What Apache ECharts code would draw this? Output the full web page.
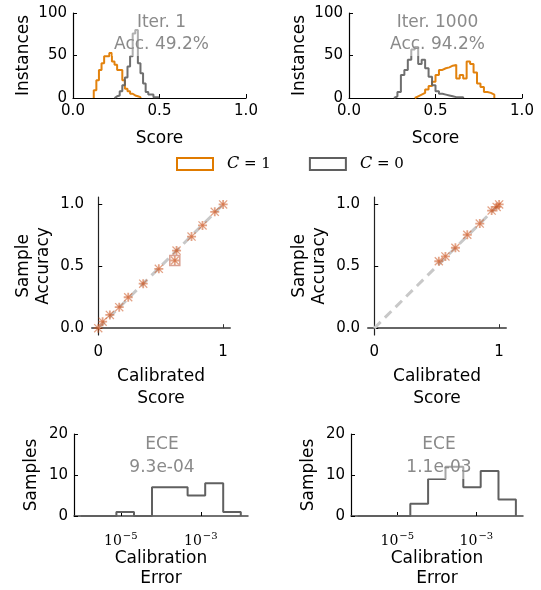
<!DOCTYPE html>
<html><head><meta charset="utf-8">
<script src="https://cdn.jsdelivr.net/npm/echarts@6/dist/echarts.min.js"></script>
<style>html,body{margin:0;padding:0;background:#fff}#c{width:541px;height:590px}</style>
</head><body><div id="c"></div>
<script>
// ---- Top row: score histograms ----
const scoreTicks = [0, 0.5, 1];
const countTicks = [0, 50, 100];
const it1PosEdges = [0.12,0.135,0.15,0.165,0.18,0.195,0.21,0.225,0.24,0.255,0.27,0.285,0.30,0.315,0.33,0.345,0.36,0.375,0.39];
const it1PosCounts = [9,21,33,41,49,49,53,43,39,33,33,21,11,8,5,3,2,1];
const it1NegEdges = [0.24,0.255,0.27,0.285,0.30,0.315,0.33,0.345,0.36,0.375,0.39,0.405,0.42,0.435,0.45,0.465,0.48,0.495];
const it1NegCounts = [2,3,8,15,24,37,49,76,80,41,29,17,7,4,4,1,1];
const it1000NegEdges = [0.26,0.28,0.30,0.32,0.34,0.36,0.38,0.40,0.42,0.44,0.46,0.48,0.50,0.52,0.54,0.56,0.58,0.60,0.62,0.64,0.66];
const it1000NegCounts = [2,7,27,33,45,57,60,40,45,35,25,15,8,5,4,3,2,1,1,1];
const it1000PosEdges = [0.38,0.40,0.42,0.44,0.46,0.48,0.50,0.52,0.54,0.56,0.58,0.60,0.62,0.64,0.66,0.68,0.70,0.72,0.74,0.76,0.78,0.80,0.82,0.84];
const it1000PosCounts = [2,4,6,10,14,19,27,33,35,36,38,39,23,27,23,43,40,30,17,13,7,6,4];
const panelTitles = ['Iter. 1\nAcc. 49.2%', 'Iter. 1000\nAcc. 94.2%'];
const legendNames = ['C = 1', 'C = 0'];

// ---- Middle row: calibration ----
const calTicksX = [0, 1];
const calTicksY = [0, 0.5, 1];
const calLeftX = [0, 0.035, 0.093, 0.168, 0.24, 0.36, 0.485, 0.613, 0.627, 0.747, 0.835, 0.933, 1.0];
const calLeftY = [0, 0.053, 0.107, 0.17, 0.25, 0.36, 0.48, 0.547, 0.627, 0.74, 0.83, 0.94, 1.0];
const calLeftBoxX = [0.613];
const calLeftBoxY = [0.547];
const calRightX = [0.517, 0.57, 0.65, 0.745, 0.845, 0.94, 0.98, 1.0];
const calRightY = [0.541, 0.58, 0.65, 0.755, 0.845, 0.95, 0.98, 1.0];
const diagX = [0, 1];
const diagY = [0, 1];

// ---- Bottom row: calibration error histograms (log10 bin edges) ----
const eceEdges = [-6.0,-5.56,-5.11,-4.67,-4.22,-3.78,-3.33,-2.89,-2.44,-2.0];
const eceLeftCounts = [0,0,1,0,7,7,5,8,1];
const eceRightCounts = [0,0,0,3,9,12,7,11,4];
const eceTickExps = [-5, -3];
const sampleTicks = [0, 10, 20];
const eceTitles = ['ECE\n9.3e-04', 'ECE\n1.1e-03'];

const ORANGE = '#e07b00', GRAY = '#5f5f5f', MARK = '#cc5520';
const FONT = 'DejaVu Sans';

function steps(edges, counts) {
  const pts = [[edges[0], 0]];
  for (let i = 0; i < counts.length; i++) pts.push([edges[i], counts[i]]);
  pts.push([edges[edges.length - 1], 0]);
  return pts;
}
function zip(a, b) { return a.map((v, i) => [v, b[i]]); }

const grids = [
  {left: 73, top: 13, width: 173, height: 85},
  {left: 349, top: 13, width: 173, height: 85},
  {left: 92, top: 197, width: 138, height: 138},
  {left: 368, top: 197, width: 138, height: 138},
  {left: 74, top: 434, width: 174, height: 85},
  {left: 351, top: 434, width: 172, height: 85}
];

const lblStyle = {color: '#000', fontFamily: FONT, fontSize: 15};
const nameStyle = {color: '#000', fontFamily: FONT, fontSize: 17, lineHeight: 21};

function xAxisTop(gi) {
  return {type: 'value', gridIndex: gi, min: 0, max: 1,
    name: 'Score', nameLocation: 'middle', nameGap: 30, nameTextStyle: nameStyle,
    axisLine: {lineStyle: {color: '#000', width: 1.2}},
    axisTick: {inside: true, length: 4, customValues: scoreTicks, lineStyle: {color: '#000'}},
    axisLabel: {customValues: scoreTicks, formatter: v => v.toFixed(1), margin: 6, ...lblStyle},
    splitLine: {show: false}};
}
function yAxisTop(gi) {
  return {type: 'value', gridIndex: gi, min: 0, max: 100,
    name: 'Instances', nameLocation: 'middle', nameGap: 34, nameTextStyle: nameStyle,
    axisLine: {show: true, lineStyle: {color: '#000', width: 1.2}},
    axisTick: {show: true, inside: true, length: 4, customValues: countTicks, lineStyle: {color: '#000'}},
    axisLabel: {customValues: countTicks, margin: 6, ...lblStyle},
    splitLine: {show: false}};
}
function xAxisMid(gi) {
  return {type: 'value', gridIndex: gi, min: -0.05, max: 1.055,
    name: 'Calibrated\nScore', nameLocation: 'middle', nameGap: 31, nameTextStyle: {...nameStyle, lineHeight: 22},
    axisLine: {lineStyle: {color: '#666', width: 2}},
    axisTick: {inside: true, length: 4, customValues: calTicksX, lineStyle: {color: '#333'}},
    axisLabel: {customValues: calTicksX, margin: 10, ...lblStyle},
    splitLine: {show: false}};
}
function yAxisMid(gi) {
  return {type: 'value', gridIndex: gi, min: -0.055, max: 1.06,
    name: 'Sample\nAccuracy', nameLocation: 'middle', nameGap: 38, nameTextStyle: {...nameStyle, lineHeight: 20},
    axisLine: {show: true, lineStyle: {color: '#222', width: 1.2}},
    axisTick: {show: true, inside: true, length: 4, customValues: calTicksY, lineStyle: {color: '#000'}},
    axisLabel: {customValues: calTicksY, formatter: v => v.toFixed(1), margin: 8, ...lblStyle},
    splitLine: {show: false}};
}
function xAxisBot(gi) {
  return {type: 'value', gridIndex: gi, min: -6.17, max: -1.82,
    name: 'Calibration\nError', nameLocation: 'middle', nameGap: 33, nameTextStyle: {...nameStyle, lineHeight: 20},
    axisLine: {lineStyle: {color: '#444', width: 1.5}},
    axisTick: {inside: true, length: 4, customValues: eceTickExps, lineStyle: {color: '#000'}},
    axisLabel: {customValues: eceTickExps, margin: 15,
      formatter: v => '{b|10}{s|\u2212' + Math.abs(v) + '}',
      rich: {b: {fontFamily: 'DejaVu Serif', fontSize: 14, color: '#000', verticalAlign: 'bottom'},
             s: {fontFamily: 'DejaVu Serif', fontSize: 10, color: '#000', verticalAlign: 'bottom', padding: [0, 0, 7, 1]}}},
    splitLine: {show: false}};
}
function yAxisBot(gi) {
  return {type: 'value', gridIndex: gi, min: 0, max: 20,
    name: 'Samples', nameLocation: 'middle', nameGap: 32, nameTextStyle: nameStyle,
    axisLine: {show: true, lineStyle: {color: '#000', width: 1.2}},
    axisTick: {show: true, inside: true, length: 4, customValues: sampleTicks, lineStyle: {color: '#000'}},
    axisLabel: {customValues: sampleTicks, margin: 6, ...lblStyle},
    splitLine: {show: false}};
}

const plusSym = 'path://M4,0h2v10h-2zM0,4h10v2h-10z';
const xSym = 'path://M1,0L5,4L9,0L10,1L6,5L10,9L9,10L5,6L1,10L0,9L4,5L0,1Z';

function histLine(name, gi, edges, counts, color, opacity) {
  return {type: 'line', name: name, xAxisIndex: gi, yAxisIndex: gi, step: 'end',
    data: steps(edges, counts), showSymbol: false, symbol: 'none',
    lineStyle: {color: color, width: 2, opacity: opacity}, itemStyle: {color: color},
    silent: true, animation: false, z: 3};
}
function diag(gi) {
  return {type: 'line', xAxisIndex: gi, yAxisIndex: gi, data: zip(diagX, diagY), symbol: 'none',
    lineStyle: {color: '#c8c8c8', width: 3, type: [9, 6]}, silent: true, animation: false, z: 2};
}
function marks(gi, xs, ys, sym) {
  return {type: 'scatter', xAxisIndex: gi, yAxisIndex: gi, data: zip(xs, ys), symbol: sym, symbolSize: 9,
    itemStyle: {color: MARK, opacity: 0.55}, silent: true, animation: false, z: 4};
}
function panelTitle(text, x, y, lh) {
  return {text: text, left: x, top: y, textAlign: 'center', padding: [0, 2],
    backgroundColor: 'rgba(255,255,255,0.45)',
    textStyle: {color: '#8a8a8a', fontFamily: FONT, fontSize: 17, fontWeight: 'normal', lineHeight: lh}};
}

const option = {
  backgroundColor: '#fff',
  animation: false,
  grid: grids,
  title: [
    panelTitle(panelTitles[0], 159.5, 12, 22),
    panelTitle(panelTitles[1], 435.5, 12, 22),
    panelTitle(eceTitles[0], 160, 433, 23),
    panelTitle(eceTitles[1], 437, 433, 23)
  ],
  legend: {
    top: 151, left: 171, itemWidth: 36, itemHeight: 12, itemGap: 38, selectedMode: false,
    data: [
      {name: legendNames[0], icon: 'rect', itemStyle: {color: '#fff', borderColor: ORANGE, borderWidth: 2}},
      {name: legendNames[1], icon: 'rect', itemStyle: {color: '#fff', borderColor: GRAY, borderWidth: 2}}
    ],
    formatter: n => '{i|C} ' + n.slice(2),
    textStyle: {fontFamily: 'DejaVu Serif', fontSize: 15, color: '#000', padding: [0, 0, 0, 9],
      rich: {i: {fontFamily: 'DejaVu Serif', fontStyle: 'italic', fontSize: 16, color: '#000'}}}
  },
  xAxis: [xAxisTop(0), xAxisTop(1), xAxisMid(2), xAxisMid(3), xAxisBot(4), xAxisBot(5)],
  yAxis: [yAxisTop(0), yAxisTop(1), yAxisMid(2), yAxisMid(3), yAxisBot(4), yAxisBot(5)],
  series: [
    histLine(legendNames[0], 0, it1PosEdges, it1PosCounts, ORANGE, 0.95),
    histLine(legendNames[1], 0, it1NegEdges, it1NegCounts, GRAY, 0.9),
    histLine(legendNames[0], 1, it1000PosEdges, it1000PosCounts, ORANGE, 0.95),
    histLine(legendNames[1], 1, it1000NegEdges, it1000NegCounts, GRAY, 0.9),
    diag(2), marks(2, calLeftX, calLeftY, plusSym), marks(2, calLeftX, calLeftY, xSym),
    {type: 'scatter', xAxisIndex: 2, yAxisIndex: 2, data: zip(calLeftBoxX, calLeftBoxY), symbol: 'rect', symbolSize: 10,
      itemStyle: {color: 'rgba(0,0,0,0)', borderColor: '#d08a78', borderWidth: 1.5}, silent: true, z: 4},
    diag(3), marks(3, calRightX, calRightY, plusSym), marks(3, calRightX, calRightY, xSym),
    histLine('eceL', 4, eceEdges, eceLeftCounts, '#606060', 1),
    histLine('eceR', 5, eceEdges, eceRightCounts, '#606060', 1)
  ]
};
const chart = echarts.init(document.getElementById('c'));
chart.setOption(option);
</script>
</body></html>
